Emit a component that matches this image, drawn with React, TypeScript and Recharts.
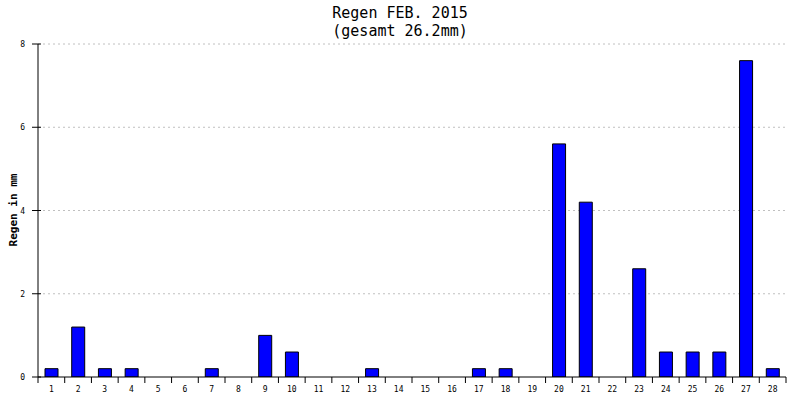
import { BarChart, Bar, XAxis, YAxis, CartesianGrid } from "recharts"

const days = [
  "1", "2", "3", "4", "5", "6", "7", "8", "9", "10", "11", "12", "13", "14",
  "15", "16", "17", "18", "19", "20", "21", "22", "23", "24", "25", "26", "27", "28",
]

const rain = [
  0.2, 1.2, 0.2, 0.2, 0, 0, 0.2, 0, 1.0, 0.6, 0, 0, 0.2, 0,
  0, 0, 0.2, 0.2, 0, 5.6, 4.2, 0, 2.6, 0.6, 0.6, 0.6, 7.6, 0.2,
]

const yTicks = [0, 2, 4, 6, 8]

const data = days.map((d, i) => ({ day: d, mm: rain[i] }))

const W = 800
const H = 400
const LEFT = 38
const RIGHT = 14
const FONT = "'DejaVu Sans Mono', monospace"
const band = (W - LEFT - RIGHT) / days.length

function DayTick(props: any) {
  const { x, y, payload, index } = props
  const left = x - band / 2
  return (
    <g>
      <line x1={left} y1={y - 8} x2={left} y2={y - 2} stroke="#000" />
      {index === days.length - 1 && (
        <line x1={left + band} y1={y - 8} x2={left + band} y2={y - 2} stroke="#000" />
      )}
      <text x={x} y={y + 7} textAnchor="middle" fontSize={8} fontFamily={FONT} fill="#000">
        {payload.value}
      </text>
    </g>
  )
}

function MmTick(props: any) {
  const { x, y, payload } = props
  return (
    <g>
      <line x1={x + 1} y1={y} x2={x + 10} y2={y} stroke="#000" />
      <text x={x - 6} y={y + 3} textAnchor="end" fontSize={8} fontFamily={FONT} fill="#000">
        {payload.value}
      </text>
    </g>
  )
}

export default function App() {
  return (
    <div style={{ position: "absolute", left: 0, top: 0, width: W, height: H, background: "#fff" }}>
      <svg width={W} height={H} style={{ position: "absolute", left: 0, top: 0 }}>
        <text x={400} y={18} textAnchor="middle" fontSize={15} fontFamily={FONT} fill="#000">
          Regen FEB. 2015
        </text>
        <text x={400} y={36} textAnchor="middle" fontSize={15} fontFamily={FONT} fill="#000">
          (gesamt 26.2mm)
        </text>
        <text
          x={0}
          y={0}
          transform="translate(17,210) rotate(-90)"
          textAnchor="middle"
          fontSize={11}
          fontWeight="bold"
          fontFamily={FONT}
          fill="#000"
        >
          Regen in mm
        </text>
      </svg>
      <div style={{ position: "absolute", left: 0, top: 0 }}>
        <BarChart
          width={W}
          height={H}
          data={data}
          margin={{ top: 44, right: RIGHT, bottom: 3, left: 8 }}
          barCategoryGap={0}
        >
          <CartesianGrid
            yAxisId="left"
            vertical={false}
            stroke="#c0c0c0"
            strokeDasharray="2 3"
            horizontalValues={[2, 4, 6, 8]}
          />
          <XAxis
            dataKey="day"
            height={20}
            tickLine={false}
            axisLine={{ stroke: "#000" }}
            tick={<DayTick />}
            interval={0}
          />
          <YAxis
            yAxisId="left"
            width={30}
            domain={[0, 8]}
            ticks={yTicks}
            tickSize={5}
            tickLine={false}
            axisLine={{ stroke: "#000" }}
            tick={<MmTick />}
            allowDataOverflow
          />
          <YAxis
            yAxisId="right"
            orientation="right"
            width={0}
            domain={[0, 8]}
            tick={false}
            tickLine={false}
            axisLine={{ stroke: "#000" }}
          />
          <Bar
            yAxisId="left"
            dataKey="mm"
            fill="#0000ff"
            stroke="#000"
            strokeWidth={1}
            barSize={13}
            isAnimationActive={false}
          />
        </BarChart>
      </div>
    </div>
  )
}
